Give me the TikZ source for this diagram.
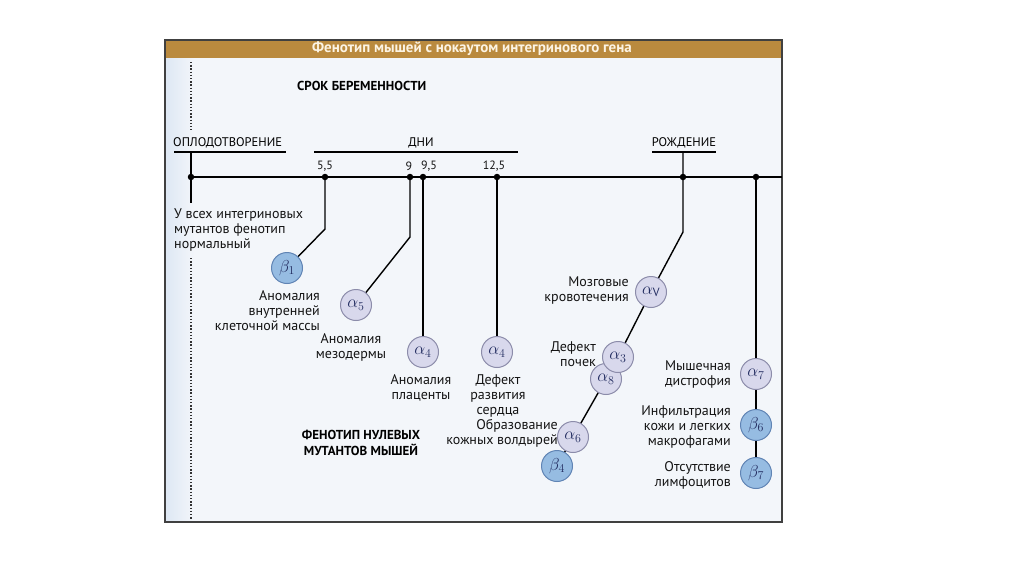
\documentclass[tikz,border=0pt]{standalone}
\usepackage{fontspec}
\setmainfont{PT Sans}
\usetikzlibrary{backgrounds}
\pgfdeclarelayer{back}
\pgfsetlayers{back,background,main}

\definecolor{headbrown}{RGB}{186,138,62}
\definecolor{panelbg}{RGB}{243,246,250}
\definecolor{bandblue}{RGB}{222,232,244}
\definecolor{alphafill}{RGB}{216,216,236}
\definecolor{alphaedge}{RGB}{140,140,170}
\definecolor{betafill}{RGB}{150,188,226}
\definecolor{betaedge}{RGB}{96,132,180}
\definecolor{genetext}{RGB}{34,44,96}

\begin{document}
\begin{tikzpicture}[x=1pt, y=-1pt,
  lbl/.style={font=\fontsize{14}{15}\selectfont, inner sep=0pt, text=black!92},
  caps/.style={font=\bfseries\fontsize{13}{16}\selectfont, inner sep=0pt, text=black},
  heading/.style={font=\fontsize{12.5}{13}\selectfont, inner sep=0pt, text=black},
  dot/.style={circle, fill=black, inner sep=0pt, minimum size=6.5pt},
  alphagene/.style={circle, draw=alphaedge, line width=1pt, fill=alphafill, minimum size=31pt, inner sep=0pt, text=genetext, font=\fontsize{17}{17}\selectfont},
  betagene/.style={circle, draw=betaedge, line width=1pt, fill=betafill, minimum size=31pt, inner sep=0pt, text=genetext, font=\fontsize{17}{17}\selectfont},
  link/.style={line width=1.4pt, black}]
  \useasboundingbox (0,0) rectangle (1024,574);

  % Panel and header bar
  \begin{pgfonlayer}{back}
    \fill[panelbg] (165,40) rectangle (782,522);
    \fill[left color=bandblue, right color=panelbg] (166,58) rectangle (194,521);
    \fill[headbrown] (165,40) rectangle (782,58);
    \draw[line width=1.4pt, black!75] (165,40) rectangle (782,522);
  \end{pgfonlayer}
  \node[font=\bfseries\fontsize{15}{15}\selectfont, text={rgb,255:red,252;green,244;blue,228}, inner sep=0pt] (title) at (472,49)
    {Фенотип мышей с нокаутом интегринового гена};
  \node[caps, anchor=west] (term) at (297,86) {СРОК БЕРЕМЕННОСТИ};

  % Dotted guide at fertilization
  \draw[line width=1.3pt, dash pattern=on 1.3pt off 1.9pt, black!80] (191,62) -- (191,130);
  \draw[line width=1.3pt, dash pattern=on 1.3pt off 1.9pt, black!80] (191,258) -- (191,520);

  % Heading words with rules under them
  \node[heading, anchor=west] (fertlbl) at (173,143) {ОПЛОДОТВОРЕНИЕ};
  \node[heading] (dayslbl) at (421,143) {ДНИ};
  \node[heading] (birthlbl) at (684,143) {РОЖДЕНИЕ};
  \draw[line width=1.3pt] (174,152) -- (286,152);
  \draw[line width=1.3pt] (314,152) -- (518,152);
  \draw[line width=1.3pt] (652,152) -- (716,152);
  \coordinate (fertbar) at (191,152);
  \coordinate (birthbar) at (683,152);

  % Time axis
  \node[dot] (d0) at (191,177) {};
  \node[dot] (d55) at (325,177) {};
  \node[dot] (d9) at (410,177) {};
  \node[dot] (d95) at (423,177) {};
  \node[dot] (d125) at (497,177) {};
  \node[dot] (dB) at (683,177) {};
  \node[dot] (dL) at (756,177) {};
  \coordinate (tlend) at (782,177);
  \foreach \name/\x/\t in {t55/325/{5,5}, t9/409/9, t95/429/{9,5}, t125/494/{12,5}}
    \node[lbl, font=\fontsize{12}{12}\selectfont] (\name) at (\x,166) {\t};

  % Genes
  \node[betagene] (b1) at (287,268) {$\beta_1$};
  \node[alphagene] (a5) at (356,305) {$\alpha_5$};
  \node[alphagene] (a4p) at (423,352) {$\alpha_4$};
  \node[alphagene] (a4h) at (497,352) {$\alpha_4$};
  \node[alphagene] (av) at (651,292) {$\alpha_{\mathrm{V}}$};
  \node[alphagene] (a8) at (606,379) {$\alpha_8$};
  \node[alphagene] (a3) at (618,357) {$\alpha_3$};
  \node[alphagene] (a6) at (573,437) {$\alpha_6$};
  \node[betagene] (b4) at (557,466) {$\beta_4$};
  \node[alphagene] (a7) at (756,374) {$\alpha_7$};
  \node[betagene] (b6) at (756,425) {$\beta_6$};
  \node[betagene] (b7) at (756,473) {$\beta_7$};

  % Branches (behind the circles)
  \coordinate (fertend) at (191,203);
  \coordinate (bend55) at (325,229);
  \coordinate (bend9) at (410,237);
  \coordinate (bendB) at (683,232);
  \begin{scope}[on background layer]
    \draw[line width=2pt] (d0.center) -- (tlend);
    \draw[link] (fertbar) -- (d0.center) -- (fertend);
    \draw[link] (d55.center) -- (bend55) -- (b1.center);
    \draw[link] (d9.center) -- (bend9) -- (a5.center);
    \draw[link] (d95.center) -- (a4p.center);
    \draw[link] (d125.center) -- (a4h.center);
    \draw[link] (birthbar) -- (dB.center) -- (bendB) -- (av.center) -- (a3.center) -- (a8.center) -- (a6.center) -- (b4.center);
    \draw[link] (dL.center) -- (a7.center) -- (b6.center) -- (b7.center);
  \end{scope}

  % Phenotypes
  \node[lbl, anchor=west, align=left] (normal) at (174,230) {У всех интегриновых\\мутантов фенотип\\нормальный};
  \node[lbl, anchor=east, align=right] (inner) at (320,311) {Аномалия\\внутренней\\клеточной массы};
  \node[lbl, align=center] (meso) at (351,347) {Аномалия\\мезодермы};
  \node[lbl, align=center] (plac) at (421,388) {Аномалия\\плаценты};
  \node[lbl, align=center] (heart) at (498,396) {Дефект\\развития\\сердца};
  \node[lbl, anchor=east, align=right] (blister) at (558,433) {Образование\\кожных волдырей};
  \node[caps, align=center] (nullmut) at (361,443) {ФЕНОТИП НУЛЕВЫХ\\МУТАНТОВ МЫШЕЙ};
  \node[lbl, anchor=east, align=right] (brain) at (629,290) {Мозговые\\кровотечения};
  \node[lbl, anchor=east, align=right] (kidney) at (596,354) {Дефект\\почек};
  \node[lbl, anchor=east, align=right] (muscle) at (731,374) {Мышечная\\дистрофия};
  \node[lbl, anchor=east, align=right] (infil) at (731,427) {Инфильтрация\\кожи и легких\\макрофагами};
  \node[lbl, anchor=east, align=right] (lymph) at (731,475) {Отсутствие\\лимфоцитов};
\end{tikzpicture}
\end{document}
